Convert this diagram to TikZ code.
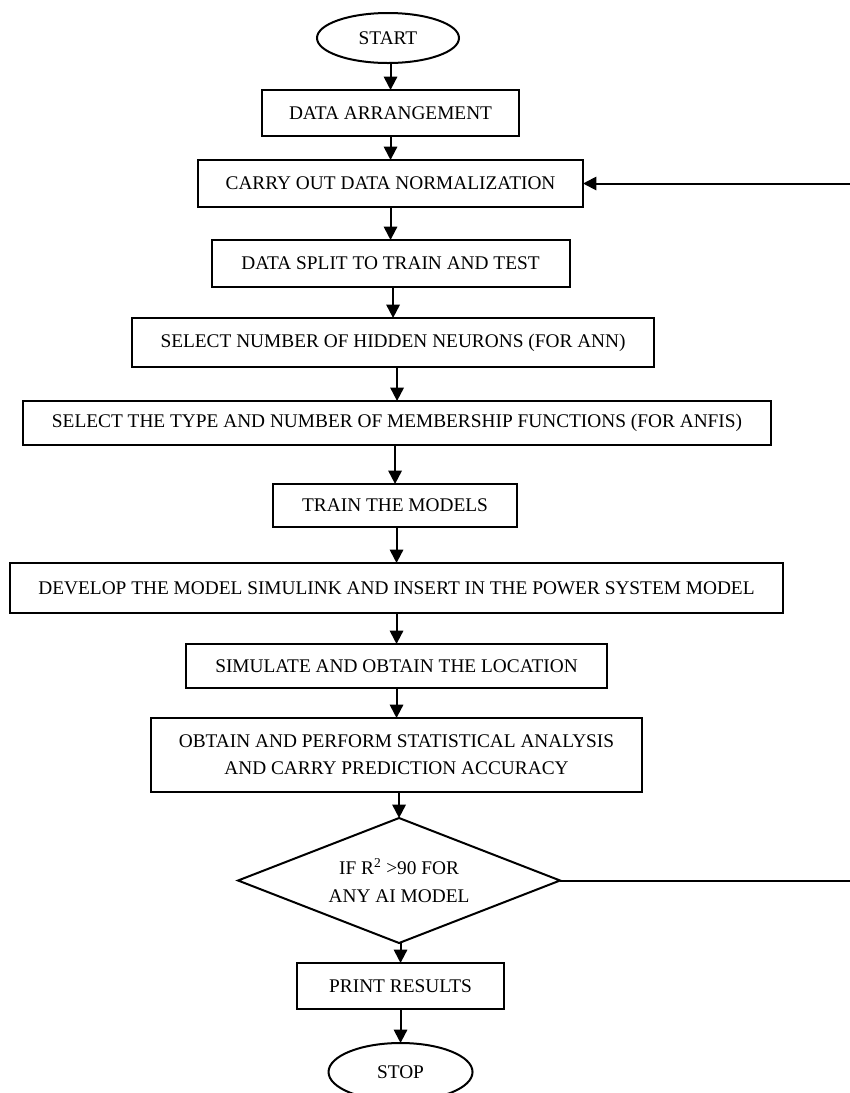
\documentclass[tikz,border=0pt]{standalone}
\usepackage{fontspec}
\setmainfont{Liberation Serif}
\usetikzlibrary{arrows.meta,positioning,shapes.geometric}

\begin{document}
\begin{tikzpicture}[
  x=0.75pt, y=-0.75pt,
  font=\fontsize{14.5}{20.5}\selectfont,
  box/.style={draw, line width=1.5pt, align=center, inner sep=0pt, outer sep=0pt},
  term/.style={draw, line width=1.5pt, ellipse, inner sep=0pt, outer sep=0pt},
  cond/.style={draw, line width=1.5pt, diamond, shape aspect=2.6, align=center,
    inner sep=0pt, outer sep=0pt},
  arr/.style={-{Triangle[length=10pt, width=10pt]}, line width=1.5pt},
  back/.style={-{Triangle[length=10pt, width=10pt]}, line width=1.5pt}
]
\useasboundingbox (0,0) rectangle (850,1093);

% ── Preparing the data ──────────────────────────────────────────────────
\node[term, minimum width=106.5pt, minimum height=37.5pt] (start) at (388,38) {START};
\node[box, below=20.25pt of start, xshift=1.9pt, minimum width=192.75pt, minimum height=34.5pt] (dat)
  {DATA ARRANGEMENT};
\node[box, below=18pt of dat, minimum width=288.75pt, minimum height=35.25pt] (norm)
  {CARRY OUT DATA NORMALIZATION};
\node[box, below=24.75pt of norm, minimum width=268.5pt, minimum height=35.25pt] (split)
  {DATA SPLIT TO TRAIN AND TEST};

% ── Setting up and training the models ──────────────────────────────────
\node[box, below=23.25pt of split, xshift=1.9pt, minimum width=391.5pt, minimum height=36.75pt] (hid)
  {SELECT NUMBER OF HIDDEN NEURONS (FOR ANN)};
\node[box, below=25.5pt of hid, xshift=3pt, minimum width=561pt, minimum height=33pt] (mf)
  {SELECT THE TYPE AND NUMBER OF MEMBERSHIP FUNCTIONS (FOR ANFIS)};
\node[box, below=29.25pt of mf, xshift=-1.5pt, minimum width=183pt, minimum height=32.25pt] (train)
  {TRAIN THE MODELS};
\node[box, below=27pt of train, xshift=1.1pt, minimum width=579.75pt, minimum height=37.5pt] (dev)
  {DEVELOP THE MODEL SIMULINK AND INSERT IN THE POWER SYSTEM MODEL};
\node[box, below=23.25pt of dev, minimum width=315.75pt, minimum height=33pt] (sim)
  {SIMULATE AND OBTAIN THE LOCATION};
\node[box, below=22.5pt of sim, minimum width=368.25pt, minimum height=55.5pt] (obt)
  {OBTAIN AND PERFORM STATISTICAL ANALYSIS\\ AND CARRY PREDICTION ACCURACY};

% ── Checking the result ─────────────────────────────────────────────────
\node[cond, below=19.5pt of obt, xshift=1.9pt, minimum width=241.5pt, minimum height=93.75pt] (dec)
  {IF R\textsuperscript{2} >90 FOR\\ ANY AI MODEL};
\node[box, below=15pt of dec, xshift=1.1pt, minimum width=155.25pt, minimum height=34.5pt] (print)
  {PRINT RESULTS};
\node[term, below=25.5pt of print, minimum width=108pt, minimum height=43.5pt] (stop) {STOP};

\foreach \a/\b in {start/dat, dat/norm, norm/split, split/hid, hid/mf, mf/train,
  train/dev, dev/sim, sim/obt, obt/dec, dec/print, print/stop}
  \draw[arr] (\a.south -| \b.north) -- (\b.north);

% loop back to the normalization step (its upright part lies past the edge)
\coordinate (edge) at (858,0);
\draw[back] (dec.east) -- (dec.east -| edge) -- (norm.east -| edge) -- (norm.east);

\end{tikzpicture}
\end{document}
